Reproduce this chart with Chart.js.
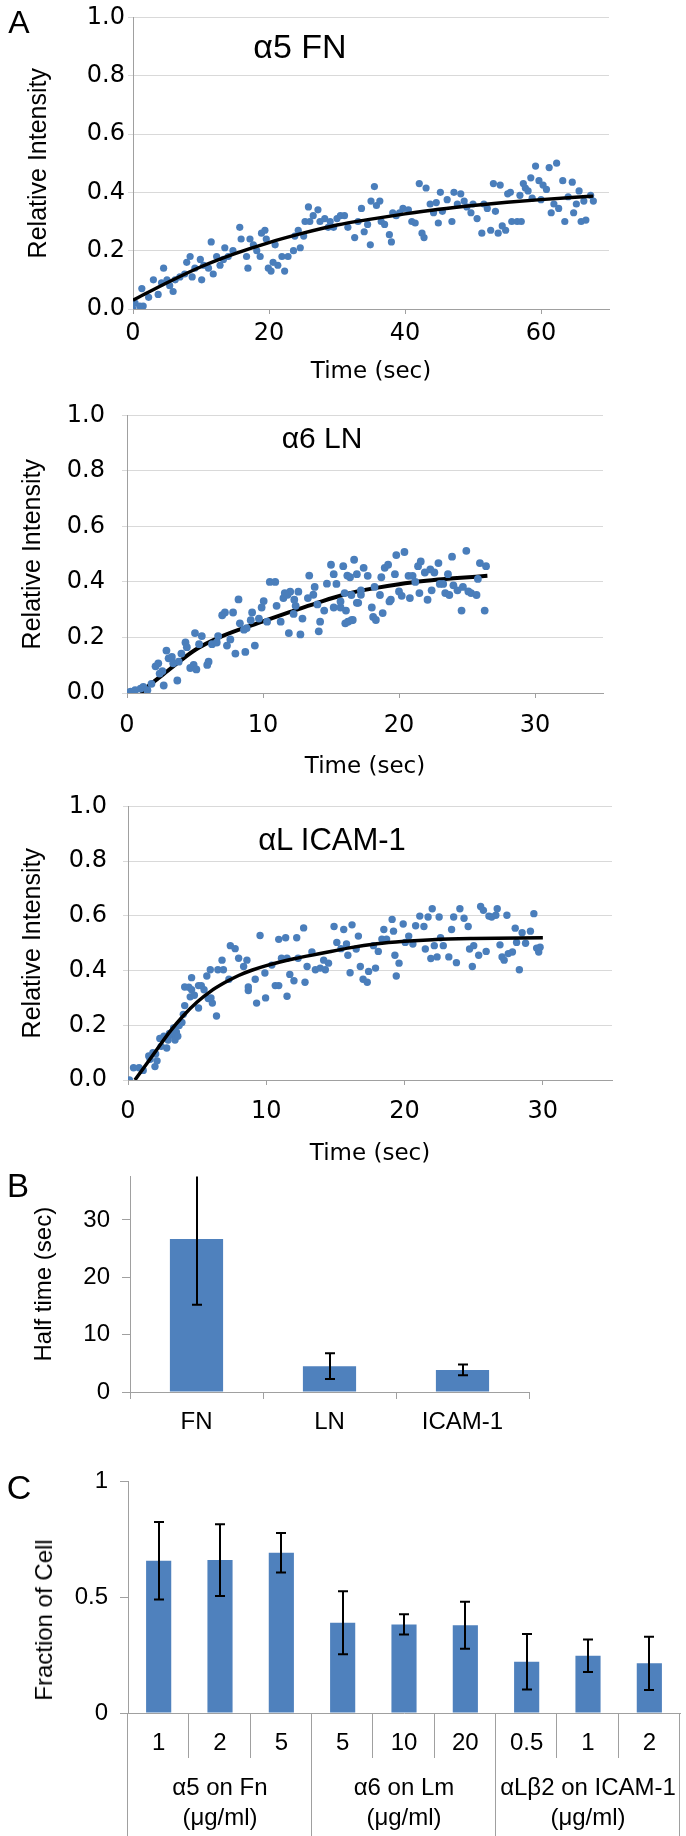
<!DOCTYPE html>
<html><head><meta charset="utf-8">
<script src="https://cdn.jsdelivr.net/npm/chart.js@4.4.0/dist/chart.umd.min.js"></script>
<style>
html,body{margin:0;padding:0;background:#fff;}
body{width:686px;height:1836px;position:relative;overflow:hidden;font-family:"Liberation Sans",Arial,sans-serif;}
canvas{position:absolute;left:0;}
.lbl{position:absolute;color:#000;white-space:nowrap;line-height:1;transform:translate(-50%,-50%);}
</style></head><body>
<canvas id="a1" width="686" height="392" style="top:0px"></canvas>
<canvas id="a2" width="686" height="400" style="top:384px"></canvas>
<canvas id="a3" width="686" height="400" style="top:776px"></canvas>
<canvas id="b" width="686" height="300" style="top:1150px"></canvas>
<canvas id="c" width="686" height="386" style="top:1450px"></canvas>
<div class="lbl" style="left:19px;top:22px;font-size:32px">A</div>
<div class="lbl" style="left:18px;top:1185px;font-size:33px">B</div>
<div class="lbl" style="left:19px;top:1487px;font-size:34px">C</div>
<div class="lbl" style="left:300px;top:46px;font-size:34px">α5 FN</div>
<div class="lbl" style="left:322px;top:438px;font-size:30px">α6 LN</div>
<div class="lbl" style="left:332px;top:839px;font-size:31px">αL ICAM-1</div>
<div class="lbl" style="left:44px;top:1620px;font-size:24px;transform:translate(-50%,-50%) rotate(-90deg)">Fraction of Cell</div>
<script>
// ---------- DATA ----------
const yTicksA = [0, 0.2, 0.4, 0.6, 0.8, 1.0];
const xTicksA1 = [0, 20, 40, 60];
const xTicksA23 = [0, 10, 20, 30];

// Panel A1: α5 FN
const tA1 = [0,0.3,1.0,1.5,1.3,2.3,3.0,3.7,4.2,4.5,5.0,5.4,5.9,6.2,6.9,7.6,7.9,8.4,8.7,9.1,9.9,10.1,10.4,11.1,11.5,11.8,12.3,12.8,13.3,13.5,14.0,14.7,15.7,15.9,16.7,16.9,17.2,17.7,18.2,18.7,18.9,19.4,19.6,19.9,20.3,20.6,20.9,21.3,21.9,22.3,22.8,23.6,23.8,24.3,24.6,25.1,25.3,25.8,26.0,26.5,27.2,27.5,28.2,28.7,29.0,29.5,30.0,30.5,
 31.1,31.6,32.6,33.1,33.6,34.0,34.5,34.9,35.0,35.5,35.8,36.3,36.5,37.0,37.7,38.0,38.2,38.7,39.2,39.7,40.5,41.0,41.5,42.1,42.5,42.8,43.1,43.7,44.2,44.6,44.9,45.2,45.5,46.2,46.9,47.2,47.7,48.2,48.7,49.1,49.7,50.0,50.6,51.3,51.6,52.1,52.6,53.0,53.3,53.7,54.0,54.3,54.8,55.1,55.5,55.7,56.5,56.9,57.1,57.4,57.7,58.1,58.5,58.7,59.2,59.7,60.0,60.3,60.8,61.2,61.5,61.9,62.3,62.6,63.2,63.5,64.0,64.6,64.8,65.2,65.6,65.9,66.3,66.6,67.3,67.7];
const vA1 = [0.00,0.02,0.01,0.01,0.07,0.04,0.10,0.05,0.09,0.14,0.10,0.08,0.06,0.10,0.11,0.12,0.16,0.18,0.11,0.14,0.17,0.10,0.15,0.14,0.23,0.12,0.18,0.15,0.17,0.21,0.18,0.20,0.28,0.24,0.18,0.14,0.24,0.22,0.20,0.18,0.26,0.27,0.24,0.14,0.13,0.16,0.22,0.15,0.18,0.13,0.18,0.20,0.25,0.27,0.21,0.25,0.30,0.35,0.30,0.32,0.34,0.30,0.31,0.28,0.30,0.28,0.31,0.32,
 0.32,0.28,0.245,0.30,0.345,0.265,0.29,0.22,0.37,0.42,0.355,0.37,0.30,0.29,0.255,0.23,0.33,0.32,0.33,0.345,0.34,0.30,0.295,0.43,0.26,0.245,0.415,0.36,0.33,0.365,0.295,0.40,0.335,0.375,0.30,0.40,0.36,0.395,0.37,0.35,0.33,0.36,0.31,0.26,0.36,0.345,0.27,0.43,0.335,0.26,0.425,0.285,0.27,0.395,0.40,0.30,0.30,0.39,0.30,0.43,0.415,0.405,0.45,0.38,0.49,0.44,0.375,0.425,0.41,0.485,0.33,0.36,0.50,0.345,0.44,0.30,0.385,0.435,0.33,0.36,0.405,0.30,0.37,0.305,0.39,0.37];
const fitTA1 = [0,5,10,15,20,25,30,35,40,45,50,55,60,65,67.7];
const fitVA1 = [0.03,0.09,0.145,0.19,0.228,0.26,0.288,0.308,0.326,0.342,0.355,0.366,0.375,0.383,0.387];

// Panel A2: α6 LN
const tA2 = [0.25,0.6,1.0,1.2,1.8,2.1,2.3,2.6,2.7,2.9,3.06,3.3,3.4,3.7,3.8,4.0,4.3,4.4,4.65,4.9,5.0,5.3,5.5,5.9,6.0,6.25,6.6,6.7,7.0,7.2,7.35,7.6,7.8,7.97,8.2,8.3,8.6,8.7,8.8,9.1,9.2,9.4,9.7,9.9,10.05,10.3,10.5,10.9,11.0,11.3,11.5,11.8,11.9,12.0,12.25,12.4,12.6,12.75,12.9,13.4,13.7,14.1,14.2,14.5,14.7,15.2,15.7,16.05,16.2,16.5,16.9,17.2,
 1.5,2.4,5.1,11.6,12.3,13.3,13.8,14.0,15.0,15.2,15.4,15.7,
 15.9,16.0,16.1,16.25,16.4,16.5,16.6,16.7,16.9,17.0,17.2,17.4,17.7,18.0,18.1,18.2,18.3,18.6,18.7,18.8,18.95,19.2,19.3,19.4,19.7,19.8,20.0,20.2,20.4,20.7,20.8,21.0,21.2,21.4,21.5,21.6,21.9,22.1,22.3,22.4,22.6,22.9,23.0,23.25,23.4,23.6,23.7,23.9,24.0,24.3,24.6,24.7,24.95,25.1,25.3,25.7,25.8,25.95,26.3,26.4];
const vA2 = [0.005,0.01,0.016,0.022,0.033,0.096,0.107,0.079,0.027,0.153,0.125,0.13,0.107,0.045,0.113,0.142,0.182,0.165,0.09,0.101,0.216,0.176,0.205,0.101,0.113,0.176,0.182,0.205,0.28,0.29,0.171,0.193,0.29,0.142,0.337,0.251,0.228,0.148,0.234,0.262,0.29,0.171,0.268,0.308,0.331,0.257,0.40,0.40,0.314,0.257,0.342,0.354,0.216,0.365,0.285,0.314,0.365,0.211,0.268,0.423,0.354,0.222,0.257,0.297,0.394,0.308,0.308,0.251,0.423,0.262,0.325,0.354,
 0.01,0.07,0.085,0.36,0.336,0.342,0.382,0.319,0.462,0.428,0.393,0.33,
 0.457,0.36,0.297,0.257,0.417,0.353,0.263,0.48,0.428,0.325,0.37,0.451,0.422,0.308,0.274,0.382,0.263,0.353,0.417,0.288,0.451,0.462,0.33,0.336,0.428,0.497,0.366,0.35,0.508,0.422,0.342,0.422,0.40,0.457,0.36,0.474,0.434,0.336,0.445,0.37,0.434,0.468,0.393,0.393,0.36,0.428,0.353,0.491,0.388,0.37,0.297,0.382,0.512,0.366,0.36,0.353,0.411,0.468,0.297,0.457];
const fitTA2 = [1.0,1.5,3,5,7,10,12,14,16,18,20,22,24,26.5];
const fitVA2 = [0.0,0.022,0.08,0.155,0.205,0.258,0.292,0.325,0.355,0.376,0.392,0.404,0.413,0.422];

// Panel A3: αL ICAM-1
const tA3 = [0.1,0.4,0.8,1.1,1.5,1.6,1.95,2.1,2.3,2.4,2.8,2.9,3.2,3.4,3.5,3.7,4.0,4.1,4.4,4.5,5.1,5.3,5.8,6.1,6.4,8.7,9.3,9.95,10.9,11.5,1.8,2.0,2.6,3.0,3.3,3.6,3.9,4.6,4.8,5.5,6.0,
 4.1,4.6,5.1,5.7,5.95,6.5,6.8,6.9,7.3,7.4,7.75,8.0,8.36,8.6,8.7,9.2,9.55,9.9,10.4,10.65,10.9,11.1,11.4,11.5,11.7,12.0,12.2,12.3,12.7,12.8,12.95,13.3,13.55,13.9,14.15,14.27,14.5,14.9,15.1,15.4,
 15.6,15.8,15.9,16.06,16.2,16.5,16.66,16.8,17.0,17.3,17.4,17.75,17.9,18.1,18.36,18.5,18.7,19.1,19.2,19.3,19.4,19.6,19.9,20.05,20.3,20.6,20.8,21.1,21.4,21.5,21.7,21.9,22.0,22.15,22.35,22.5,22.6,22.8,23.2,23.4,23.55,23.75,24.0,24.3,24.6,24.7,24.9,25.0,25.36,25.5,25.7,25.9,26.1,26.3,26.6,26.7,26.9,27.05,27.2,27.4,27.5,27.8,28.0,28.1,28.3,28.5,28.75,29.1,29.35,29.55,29.7,29.8];
const vA3 = [0.0,0.045,0.045,0.035,0.088,0.076,0.049,0.07,0.152,0.123,0.117,0.146,0.164,0.146,0.175,0.199,0.24,0.272,0.339,0.304,0.263,0.345,0.298,0.281,0.234,0.327,0.281,0.30,0.345,0.306,0.10,0.095,0.16,0.17,0.19,0.16,0.21,0.33,0.31,0.33,0.30,
 0.34,0.374,0.345,0.38,0.403,0.403,0.438,0.403,0.368,0.491,0.48,0.445,0.415,0.438,0.34,0.368,0.528,0.391,0.42,0.345,0.514,0.445,0.52,0.445,0.386,0.363,0.52,0.445,0.556,0.357,0.415,0.468,0.403,0.409,0.438,0.403,0.427,0.561,0.503,0.48,
 0.55,0.497,0.456,0.392,0.567,0.479,0.526,0.415,0.368,0.357,0.397,0.491,0.409,0.47,0.515,0.55,0.515,0.587,0.544,0.456,0.38,0.427,0.57,0.503,0.526,0.497,0.564,0.599,0.561,0.479,0.596,0.444,0.626,0.491,0.45,0.596,0.52,0.491,0.45,0.55,0.596,0.429,0.626,0.591,0.561,0.479,0.415,0.491,0.456,0.634,0.62,0.47,0.599,0.596,0.602,0.626,0.494,0.45,0.438,0.602,0.462,0.468,0.555,0.503,0.403,0.538,0.50,0.544,0.608,0.482,0.468,0.485];
const fitTA3 = [0.5,1,2,3,4,5,6,7,8,9,10,12,14,16,18,20,22,25,30];
const fitVA3 = [0,0.035,0.105,0.175,0.235,0.285,0.325,0.356,0.382,0.402,0.418,0.443,0.463,0.483,0.498,0.507,0.513,0.517,0.52];

// Panel B
const bCats = ['FN', 'LN', 'ICAM-1'];
const bVals = [26.7, 4.5, 3.85];
const bErr = [11.5, 2.25, 0.95];
const yTicksB = [0, 10, 20, 30];

// Panel C
const cCats = ['1', '2', '5', '5', '10', '20', '0.5', '1', '2'];
const cVals = [0.656, 0.659, 0.691, 0.389, 0.382, 0.378, 0.221, 0.247, 0.214];
const cErr = [0.167, 0.155, 0.085, 0.136, 0.044, 0.101, 0.12, 0.07, 0.115];
const cGroups = ['α5 on Fn', 'α6 on Lm', 'αLβ2 on ICAM-1'];
const cGroupUnit = '(μg/ml)';
const cGroupSizes = [3, 3, 3];
const yTicksC = [0, 0.5, 1];
const yTickLabelsC = ['0', '0.5', '1'];

// ---------- STYLE ----------
const FONT = "'Liberation Sans', Arial, sans-serif";
const WIDE = "'DejaVu Sans', 'Liberation Sans', sans-serif";
const AXIS = '#a0a0a0';
const GRID = '#d9d9d9';
const DOT = '#4a7ebb';
const BAR = '#4f81bd';
Chart.defaults.font.family = FONT;
Chart.defaults.color = '#000';

const zip = (t, v) => t.map((x, i) => ({x: x, y: v[i]}));

function scatterPanel(id, c) {
  const H = c.H;
  new Chart(document.getElementById(id), {
    type: 'scatter',
    data: { datasets: [
      { type: 'line', data: zip(c.fitT, c.fitV), borderColor: '#000', borderWidth: c.lw, pointRadius: 0,
        cubicInterpolationMode: 'monotone', fill: false, order: c.fitOnTop ? 0 : 2 },
      { data: zip(c.t, c.v), pointRadius: c.r, pointBackgroundColor: DOT, pointBorderWidth: 0, borderWidth: 0, order: 1 }
    ]},
    options: {
      responsive: false, animation: false, events: [], devicePixelRatio: 1,
      layout: { padding: { top: c.area.top, right: 686 - c.area.right, left: 0, bottom: 0 } },
      plugins: { legend: { display: false }, tooltip: { enabled: false } },
      scales: {
        x: { type: 'linear', min: 0, max: c.xMax,
          afterBuildTicks: s => { s.ticks = c.xTicks.map(v => ({value: v})); },
          afterFit: s => { s.height = H - c.area.bottom; },
          grid: { drawOnChartArea: false, drawTicks: true, tickLength: 5, color: AXIS },
          border: { color: AXIS, width: 1 },
          ticks: { padding: c.xPad, color: '#000', font: { family: WIDE, size: 24 }, maxRotation: 0 },
          title: { display: true, text: 'Time (sec)', color: '#000', font: { family: WIDE, size: 23 }, padding: { top: 0, bottom: c.xTitlePad } } },
        y: { type: 'linear', min: 0, max: 1,
          afterBuildTicks: s => { s.ticks = yTicksA.map(v => ({value: v})); },
          afterFit: s => { s.width = c.area.left; },
          grid: { color: GRID, drawTicks: true, tickLength: 5 },
          border: { color: AXIS, width: 1 },
          ticks: { padding: c.yPad, color: '#000', font: { family: WIDE, size: 24 }, callback: v => Number(v).toFixed(1) },
          title: { display: true, text: 'Relative Intensity', color: '#000', font: { size: 25 }, padding: { top: c.yTitlePad, bottom: 0 } } }
      }
    }
  });
}

scatterPanel('a1', { H: 392, area: {top: 17, bottom: 309, left: 133, right: 609}, xMax: 70, xTicks: xTicksA1,
  t: tA1, v: vA1, fitT: fitTA1, fitV: fitVA1, fitOnTop: true, lw: 3.4, r: 3.6,
  xPad: 5.6, xTitlePad: 6.2, yPad: 3, yTitlePad: 24 });
scatterPanel('a2', { H: 400, area: {top: 18, bottom: 309, left: 127, right: 603}, xMax: 35, xTicks: xTicksA23,
  t: tA2, v: vA2, fitT: fitTA2, fitV: fitVA2, fitOnTop: false, lw: 4, r: 3.9,
  xPad: 13.6, xTitlePad: 3.2, yPad: 17, yTitlePad: 18 });
scatterPanel('a3', { H: 400, area: {top: 19, bottom: 304, left: 128, right: 612}, xMax: 35, xTicks: xTicksA23,
  t: tA3, v: vA3, fitT: fitTA3, fitV: fitVA3, fitOnTop: true, lw: 3.5, r: 3.7,
  xPad: 12.6, xTitlePad: 8.2, yPad: 16, yTitlePad: 18 });

function errorBars(errs, capHalf) {
  return { id: 'errbars', afterDatasetsDraw(chart) {
    const ctx = chart.ctx, meta = chart.getDatasetMeta(0), y = chart.scales.y, a = chart.chartArea;
    const vals = chart.data.datasets[0].data;
    ctx.save();
    ctx.beginPath(); ctx.rect(a.left, a.top, a.right - a.left, a.bottom - a.top); ctx.clip();
    ctx.strokeStyle = '#000'; ctx.lineWidth = 2;
    meta.data.forEach((bar, i) => {
      const x = Math.round(bar.x);
      const yt = y.getPixelForValue(vals[i] + errs[i]);
      const yb = y.getPixelForValue(vals[i] - errs[i]);
      ctx.beginPath();
      ctx.moveTo(x, yt); ctx.lineTo(x, yb);
      ctx.moveTo(x - capHalf, yt); ctx.lineTo(x + capHalf, yt);
      ctx.moveTo(x - capHalf, yb); ctx.lineTo(x + capHalf, yb);
      ctx.stroke();
    });
    ctx.restore();
  }};
}

// Panel B
(function () {
  const H = 300, area = {top: 22, bottom: 242, left: 130, right: 529};
  new Chart(document.getElementById('b'), {
    type: 'bar',
    data: { labels: bCats, datasets: [{ data: bVals, backgroundColor: BAR, barPercentage: 0.4, categoryPercentage: 1.0 }] },
    options: {
      responsive: false, animation: false, events: [], devicePixelRatio: 1,
      layout: { padding: { top: area.top, right: 686 - area.right, left: 0, bottom: 0 } },
      plugins: { legend: { display: false }, tooltip: { enabled: false } },
      scales: {
        x: { afterFit: s => { s.height = H - area.bottom; },
          grid: { offset: true, drawOnChartArea: false, drawTicks: true, tickLength: 7, color: AXIS },
          border: { color: AXIS, width: 1 },
          ticks: { padding: 8.6, color: '#000', font: { size: 24 } } },
        y: { min: 0, max: 37.6,
          afterBuildTicks: s => { s.ticks = yTicksB.map(v => ({value: v})); },
          afterFit: s => { s.width = area.left; },
          grid: { drawOnChartArea: false, drawTicks: true, tickLength: 8, color: AXIS },
          border: { color: AXIS, width: 1 },
          ticks: { padding: 12, color: '#000', font: { size: 24 } },
          title: { display: true, text: 'Half time (sec)', color: '#000', font: { size: 24 }, padding: { top: 29.6, bottom: 0 } } }
      }
    },
    plugins: [errorBars(bErr, 5)]
  });
})();

// Panel C
(function () {
  const H = 386, area = {top: 31, bottom: 263, left: 128, right: 680};
  const groupPlugin = { id: 'groups', afterDraw(chart) {
    const ctx = chart.ctx, x = chart.scales.x, a = chart.chartArea;
    const bounds = [0]; let acc = 0;
    cGroupSizes.forEach(s => { acc += s; bounds.push(acc); });
    ctx.save();
    ctx.strokeStyle = AXIS; ctx.lineWidth = 1;
    for (let i = 0; i <= cCats.length; i++) {
      const px = Math.round(x.getPixelForValue(i - 0.5)) - 0.5;
      const long = bounds.indexOf(i) >= 0;
      ctx.beginPath();
      ctx.moveTo(px, a.bottom);
      ctx.lineTo(px, long ? chart.height : a.bottom + 45);
      ctx.stroke();
    }
    ctx.fillStyle = '#000';
    ctx.font = '24px ' + FONT;
    ctx.textAlign = 'center'; ctx.textBaseline = 'middle';
    for (let g = 0; g < cGroups.length; g++) {
      const cx = (x.getPixelForValue(bounds[g] - 0.5) + x.getPixelForValue(bounds[g + 1] - 0.5)) / 2;
      ctx.fillText(cGroups[g], cx, a.bottom + 75);
      ctx.fillText(cGroupUnit, cx, a.bottom + 105);
    }
    ctx.restore();
  }};
  new Chart(document.getElementById('c'), {
    type: 'bar',
    data: { labels: cCats, datasets: [{ data: cVals, backgroundColor: BAR, barPercentage: 0.41, categoryPercentage: 1.0 }] },
    options: {
      responsive: false, animation: false, events: [], devicePixelRatio: 1,
      layout: { padding: { top: area.top, right: 686 - area.right, left: 0, bottom: 0 } },
      plugins: { legend: { display: false }, tooltip: { enabled: false } },
      scales: {
        x: { afterFit: s => { s.height = H - area.bottom; },
          grid: { display: true, drawOnChartArea: false, drawTicks: false },
          border: { color: AXIS, width: 1 },
          ticks: { padding: 15.6, color: '#000', font: { size: 24 }, maxRotation: 0, autoSkip: false } },
        y: { min: 0, max: 1,
          afterBuildTicks: s => { s.ticks = yTicksC.map(v => ({value: v})); },
          afterFit: s => { s.width = area.left; },
          grid: { drawOnChartArea: false, drawTicks: true, tickLength: 8, color: AXIS },
          border: { color: AXIS, width: 1 },
          ticks: { padding: 12, color: '#000', font: { size: 24 }, callback: (v, i) => yTickLabelsC[i] } }
      }
    },
    plugins: [errorBars(cErr, 5), groupPlugin]
  });
})();
</script>
</body></html>
